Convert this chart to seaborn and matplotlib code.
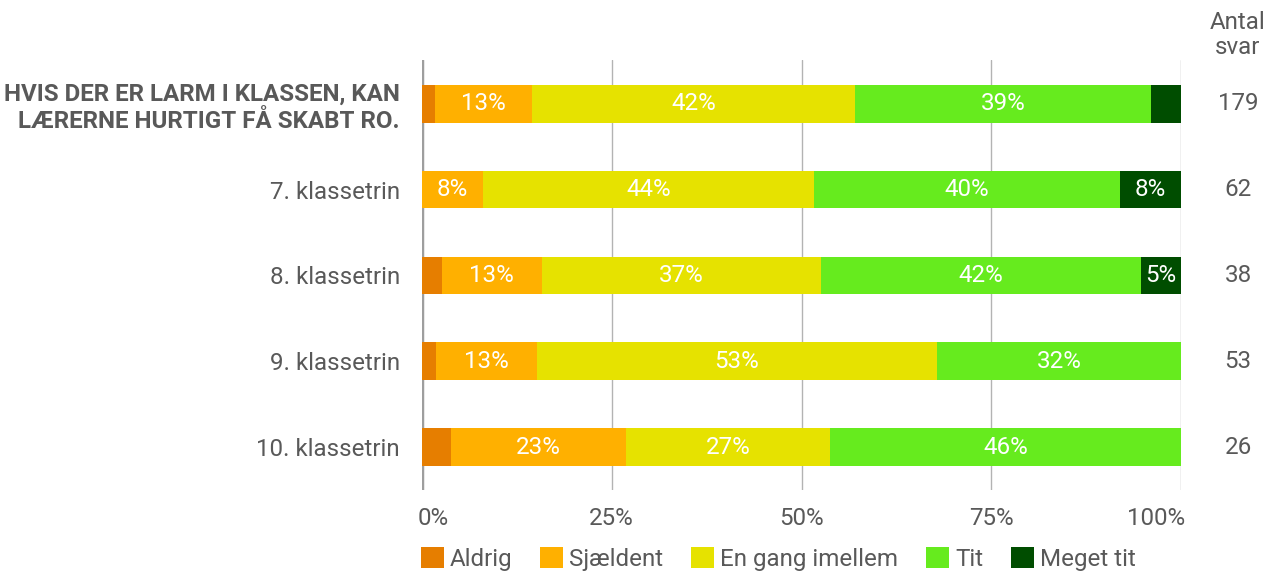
import matplotlib
matplotlib.use("Agg")
import matplotlib.pyplot as plt
import matplotlib.transforms as mtransforms
from matplotlib.patches import Patch
import seaborn as sns

# data (percent of answers per group)
categories = [
    "HVIS DER ER LARM I KLASSEN, KAN\nLÆRERNE HURTIGT FÅ SKABT RO.",
    "7. klassetrin",
    "8. klassetrin",
    "9. klassetrin",
    "10. klassetrin",
]
aldrig = [1.7, 0.0, 2.6, 1.9, 3.8]
sjaeldent = [12.8, 8.1, 13.2, 13.2, 23.1]
en_gang = [42.5, 43.5, 36.8, 52.8, 26.9]
tit = [39.1, 40.3, 42.1, 32.1, 46.2]
meget_tit = [3.9, 8.1, 5.3, 0.0, 0.0]
antal_svar = [179, 62, 38, 53, 26]
x_ticks = [0, 25, 50, 75, 100]
x_ticklabels = ["0%", "25%", "50%", "75%", "100%"]

series_names = ["Aldrig", "Sjældent", "En gang imellem", "Tit", "Meget tit"]
series_vals = [aldrig, sjaeldent, en_gang, tit, meget_tit]
colors = ["#E67E00", "#FFB000", "#E6E200", "#66EB1E", "#004D00"]

text_col = "#595959"
fs = 17.4

sns.set_style("white")
plt.rcParams["font.family"] = ["Roboto", "DejaVu Sans"]

fig = plt.figure(figsize=(12.77, 5.74), dpi=100)
ax = fig.add_axes([422 / 1277, 1 - 490 / 574, 759 / 1277, 430 / 574])

# cumulative sums, drawn from the full bar down so segments stack
cums = []
running = [0.0] * len(categories)
for vals in series_vals:
    running = [r + v for r, v in zip(running, vals)]
    cums.append(list(running))

for i in reversed(range(len(series_vals))):
    sns.barplot(x=cums[i], y=categories, orient="h", color=colors[i],
                saturation=1, width=0.44, linewidth=0, ax=ax, zorder=2)

# segment labels
for i, vals in enumerate(series_vals):
    for row, v in enumerate(vals):
        if v >= 5:
            left = cums[i][row] - v
            ax.text(left + v / 2, row, f"{v:.0f}%", ha="center", va="center",
                    color="white", fontsize=fs, zorder=3)

ax.set_xlim(0, 100)
ax.set_ylim(4.5, -0.51)
ax.set_xticks(x_ticks)
ax.set_xticklabels(x_ticklabels)
ax.set_xlabel("")
ax.set_ylabel("")
ax.grid(axis="x", color="#b3b3b3", linewidth=1)
ax.grid(axis="y", visible=False)
ax.set_axisbelow(True)
ax.axvline(0, color="#9e9e9e", linewidth=2.5, zorder=1)
for s in ax.spines.values():
    s.set_visible(False)

ax.tick_params(axis="x", length=0, pad=12, labelsize=fs, labelcolor=text_col)
ax.tick_params(axis="y", length=0, pad=16, labelsize=fs, labelcolor=text_col)

# first and last x labels sit inside the plot edges
xl = ax.get_xticklabels()
xl[0].set_horizontalalignment("left")
xl[0].set_transform(xl[0].get_transform() +
                    mtransforms.ScaledTranslation(-4 / 100, 0, fig.dpi_scale_trans))
xl[-1].set_horizontalalignment("right")
xl[-1].set_transform(xl[-1].get_transform() +
                     mtransforms.ScaledTranslation(4 / 100, 0, fig.dpi_scale_trans))

ylabels = ax.get_yticklabels()
ylabels[0].set_fontweight("bold")
ylabels[0].set_multialignment("right")

# number of answers column
trans = mtransforms.blended_transform_factory(ax.transAxes, ax.transData)
xcol = (1238 - 422) / 759
for row, n in enumerate(antal_svar):
    ax.text(xcol, row, str(n), transform=trans, ha="center", va="center",
            fontsize=fs, color=text_col)
ax.text(xcol, 1 + 25 / 430, "Antal\nsvar", transform=ax.transAxes,
        ha="center", va="center", fontsize=fs, color=text_col,
        linespacing=1.1)

handles = [Patch(facecolor=c, edgecolor="none", label=n)
           for c, n in zip(colors, series_names)]
fig.legend(handles=handles, loc="center left",
           bbox_to_anchor=(421 / 1277, 1 - 559 / 574), ncol=5, frameon=False,
           fontsize=fs, handlelength=0.95, handleheight=0.95,
           handletextpad=0.25, columnspacing=1.15, borderpad=0,
           borderaxespad=0, labelcolor=text_col)

fig.savefig("out.png", dpi=100)
